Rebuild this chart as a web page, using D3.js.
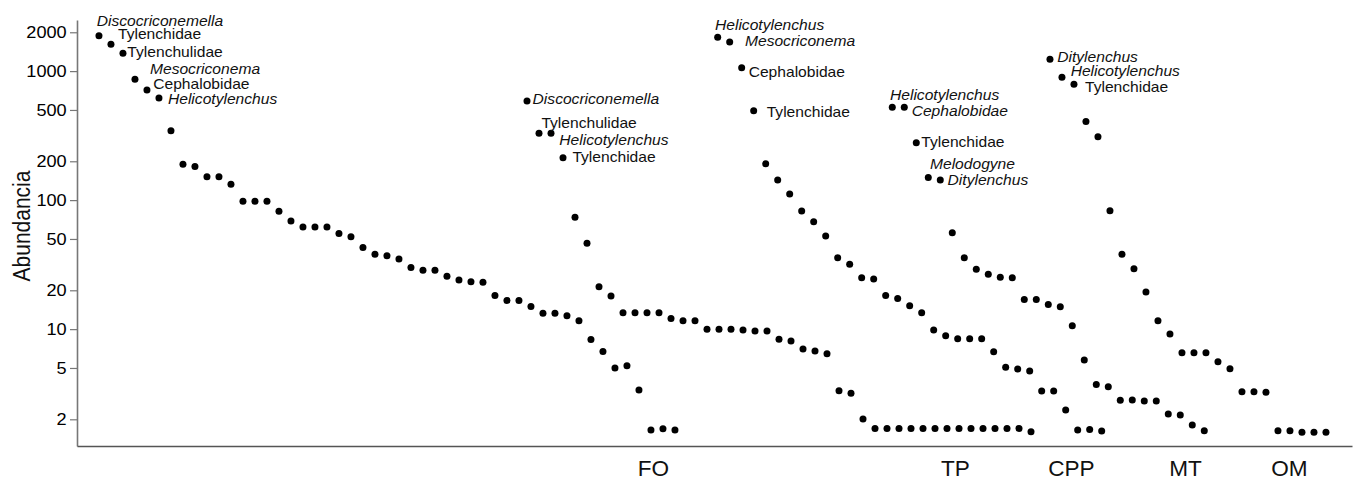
<!DOCTYPE html>
<html>
<head>
<meta charset="utf-8">
<script src="https://cdn.jsdelivr.net/npm/d3@7"></script>
<style>
    body { margin: 0; background: #fff; }
    svg { display: block; font-family: "Liberation Sans", Arial, sans-serif; }
</style>
</head>
<body>
<div id="chart-area"></div>
<script>
// Rank-abundance values per site (curves are offset along the rank axis)
var groups = ["FO", "TP", "CPP", "MT", "OM"];
var groupStart = [0, 35.67, 51.56, 66.11, 79.25];     // rank where each curve begins
var groupLabelAt = [46.17, 71.33, 81, 90.5, 99.17];   // rank of the site label under the axis

var foValues = [1883, 1614, 1375, 864, 714, 619, 345, 190, 182, 152, 152, 133, 98, 98, 98, 82, 69, 62, 62, 62,
    55, 52, 43, 38, 37, 35, 30, 28.6, 28.6, 25.7, 24, 23.3, 23.1, 18.2, 16.7, 16.7, 15, 13.3, 13.3, 12.7,
    11.6, 8.3, 6.7, 5.0, 5.2, 3.37, 1.65, 1.69, 1.65];
var tpValues = [587, 330, 330, 213, 73.6, 46.3, 21.3, 18.1, 13.4, 13.4, 13.4, 13.4, 12.1, 11.6, 11.6, 10, 10, 10,
    9.84, 9.67, 9.67, 8.34, 8.09, 7.01, 6.77, 6.45, 3.33, 3.18, 2.01,
    1.7, 1.7, 1.7, 1.7, 1.7, 1.7, 1.7, 1.7, 1.7, 1.7, 1.7, 1.7, 1.7, 1.6];
var cppValues = [1829, 1682, 1063, 493, 191, 143, 111.5, 82.3, 68.1, 52.7, 35.8, 31.8, 25.0, 24.5, 18.2, 17.3,
    15.2, 13.4, 9.84, 8.89, 8.43, 8.43, 8.43, 6.68, 5.06, 4.91, 4.74, 3.31, 3.31, 2.36, 1.65, 1.67, 1.62];
var mtValues = [524, 524, 279, 150, 143, 55.9, 35.8, 29.1, 26.6, 25.2, 25.0, 17.0, 17.0, 15.5, 14.9, 10.6,
    5.76, 3.73, 3.58, 2.81, 2.82, 2.77, 2.77, 2.2, 2.16, 1.81, 1.63];
var omValues = [1235, 896, 791, 406, 310, 82.8, 38, 29.4, 19.4, 11.6, 9.17, 6.57, 6.57, 6.57, 5.59, 4.93,
    3.27, 3.27, 3.24, 1.63, 1.63, 1.59, 1.59, 1.59];

// Names of the most abundant taxa of each curve
var foTaxa = ["Discocriconemella", "Tylenchidae", "Tylenchulidae", "Mesocriconema", "Cephalobidae", "Helicotylenchus"];
var tpTaxa = ["Discocriconemella", "Tylenchulidae", "Helicotylenchus", "Tylenchidae"];
var cppTaxa = ["Helicotylenchus", "Mesocriconema", "Cephalobidae", "Tylenchidae"];
var mtTaxa = ["Helicotylenchus", "Cephalobidae", "Tylenchidae", "Melodogyne", "Ditylenchus"];
var omTaxa = ["Ditylenchus", "Helicotylenchus", "Tylenchidae"];

var yTicks = [2, 5, 10, 20, 50, 100, 200, 500, 1000, 2000];

// label placement: [dx, dy, italic]
var labelNudge = [
    [[-2.3, -10, 1], [7, -5, 0], [4.4, 3.4, 0], [15, -5, 1], [6.3, -1, 0], [9, 6, 1]],
    [[5.6, 3.3, 1], [2.4, -5.6, 0], [8.3, 11.7, 1], [9.4, 4, 0]],
    [[-2.7, -7.3, 1], [15.3, 4, 1], [7, 9, 0], [13, 6, 0]],
    [[-2.3, -7.3, 1], [7.4, 8.7, 1], [5, 4.6, 0], [1.7, -8, 1], [7.3, 5, 1]],
    [[7.3, 2.4, 1], [8.7, -1.3, 1], [11, 7.4, 0]]
];

var allValues = [foValues, tpValues, cppValues, mtValues, omValues];
var allTaxa = [foTaxa, tpTaxa, cppTaxa, mtTaxa, omTaxa];

var margin = { left: 77, right: 6, top: 20, bottom: 36 },
    width = 1358 - margin.left - margin.right,
    height = 482 - margin.top - margin.bottom;

var svg = d3.select("#chart-area")
    .append("svg")
    .attr("width", width + margin.left + margin.right)
    .attr("height", height + margin.top + margin.bottom);
var g = svg.append("g")
    .attr("transform", "translate(" + margin.left + "," + margin.top + ")");

// Scales
var x = d3.scaleLinear().domain([-1.83, 104.42]).range([0, width]);
var y = d3.scaleLog().domain([1.242, 2490]).range([height, 0]);

// Y-axis
var yAxis = g.append("g")
    .attr("class", "y axis")
    .call(d3.axisLeft(y)
        .tickValues(yTicks)
        .tickFormat(d3.format("d"))
        .tickSize(7)
        .tickPadding(2.4)
        .tickSizeOuter(0));
yAxis.select(".domain").attr("stroke", "#777").attr("stroke-width", 1.6);
yAxis.selectAll(".tick line").attr("stroke", "#777").attr("stroke-width", 1.2);
yAxis.selectAll(".tick text")
    .attr("font-size", "16.5px")
    .attr("font-family", "Liberation Sans, Arial, sans-serif")
    .attr("fill", "#000")
    .attr("transform", "scale(1.1,1)");

// X-axis with site names
var xAxis = g.append("g")
    .attr("class", "x axis")
    .attr("transform", "translate(0," + height + ")")
    .call(d3.axisBottom(x)
        .tickValues(groupLabelAt)
        .tickFormat(function(d, i) { return groups[i]; })
        .tickSize(0)
        .tickPadding(15.2)
        .tickSizeOuter(0));
xAxis.select(".domain").attr("stroke", "#555").attr("stroke-width", 1.5);
xAxis.selectAll(".tick text")
    .attr("font-size", "21.5px")
    .attr("font-family", "Liberation Sans, Arial, sans-serif")
    .attr("fill", "#111")
    .attr("transform", "scale(1.05,1)");

// Y label
g.append("text")
    .attr("transform", "translate(" + (30 - margin.left) + "," + (226 - margin.top) + ") rotate(-90) scale(1,1.15)")
    .attr("text-anchor", "middle")
    .attr("font-size", "21px")
    .attr("fill", "#111")
    .text("Abundancia");

// Points
groups.forEach(function(name, gi) {
    var data = allValues[gi].map(function(v, i) {
        return { rank: groupStart[gi] + i, value: v };
    });

    g.append("g")
        .attr("class", "curve " + name)
        .selectAll("circle")
        .data(data)
        .enter()
        .append("circle")
        .attr("cx", function(d) { return x(d.rank); })
        .attr("cy", function(d) { return y(d.value); })
        .attr("r", 3.5)
        .attr("fill", "#000");

    // Taxon labels
    g.append("g")
        .attr("class", "labels " + name)
        .selectAll("text")
        .data(allTaxa[gi])
        .enter()
        .append("text")
        .attr("transform", function(d, i) {
            var n = labelNudge[gi][i];
            return "translate(" + (x(data[i].rank) + n[0]) + "," + (y(data[i].value) + n[1]) + ") scale(1.1,1)";
        })
        .attr("font-size", "14.2px")
        .attr("font-style", function(d, i) { return labelNudge[gi][i][2] ? "italic" : "normal"; })
        .attr("fill", "#111")
        .text(function(d) { return d; });
});
</script>
</body>
</html>
